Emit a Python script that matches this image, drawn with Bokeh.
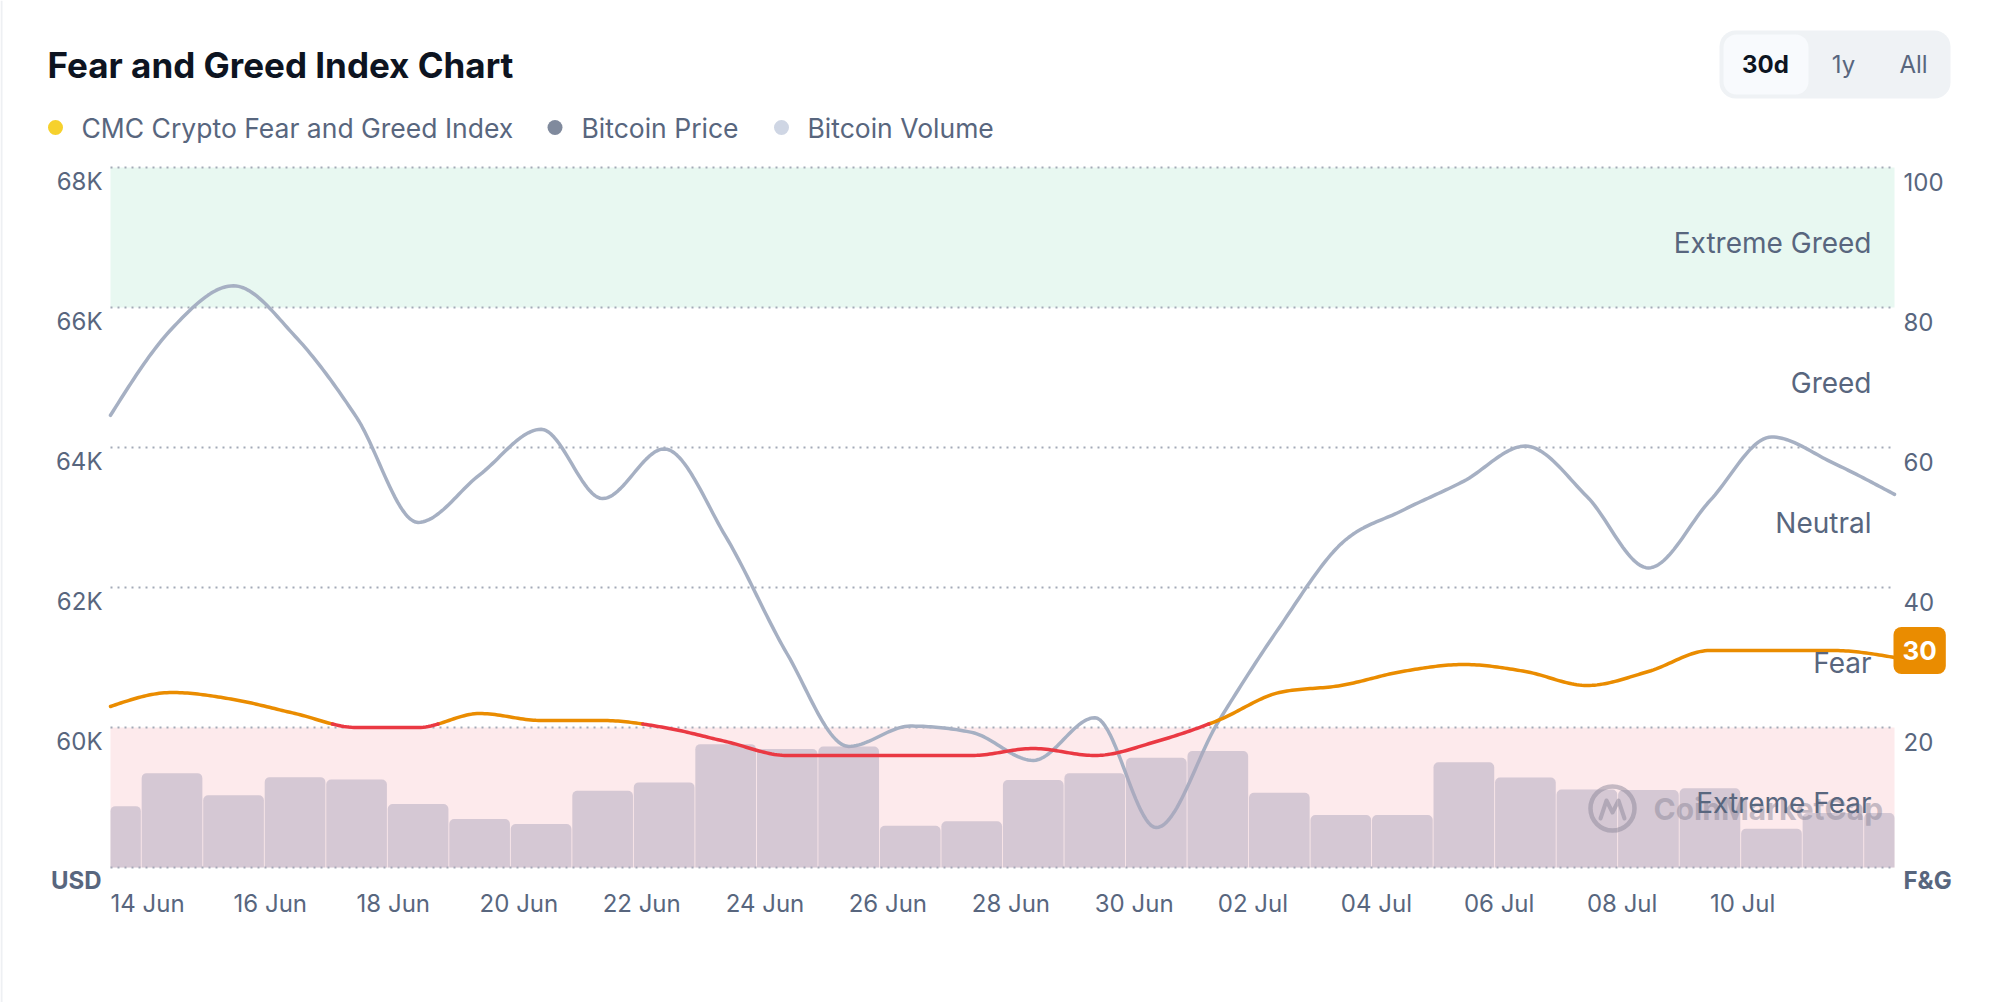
import numpy as np
import pandas as pd
from bokeh.plotting import figure
from bokeh.models import Range1d, Label
from bokeh.embed import file_html
from bokeh.resources import INLINE
from bokeh.core.properties import value

# ---------------------------------------------------------------- data
dates = [
    "2024-06-14", "2024-06-15", "2024-06-16", "2024-06-17", "2024-06-18",
    "2024-06-19", "2024-06-20", "2024-06-21", "2024-06-22", "2024-06-23",
    "2024-06-24", "2024-06-25", "2024-06-26", "2024-06-27", "2024-06-28",
    "2024-06-29", "2024-06-30", "2024-07-01", "2024-07-02", "2024-07-03",
    "2024-07-04", "2024-07-05", "2024-07-06", "2024-07-07", "2024-07-08",
    "2024-07-09", "2024-07-10", "2024-07-11", "2024-07-12", "2024-07-13",
]

# Bitcoin price, USD
btc_price = [
    64460, 65700, 66310, 65590, 64430, 62930, 63610, 64260, 63270, 63980,
    62730, 61050, 59730, 60020, 59930, 59530, 60140, 58570, 60070, 61430,
    62620, 63100, 63520, 64020, 63300, 62280, 63240, 64150, 63780, 63330,
]

# CMC Crypto Fear and Greed Index (0-100)
fear_greed = [
    23, 25, 24, 22, 20, 20, 22, 21, 21, 20,
    18, 16, 16, 16, 16, 17, 16, 18, 21, 25,
    26, 28, 29, 28, 26, 28, 31, 31, 31, 30,
]

# Bitcoin 24h volume, billion USD
btc_volume = [
    19.9, 30.6, 23.4, 29.3, 28.5, 20.6, 15.7, 14.1, 24.9, 27.6,
    40.0, 38.4, 39.2, 13.5, 15.0, 28.4, 30.6, 35.6, 37.8, 24.2,
    17.0, 17.0, 34.1, 29.2, 25.3, 25.1, 25.7, 12.6, 17.7, 17.7,
]

price_ticks = [60000, 62000, 64000, 66000, 68000]
price_tick_labels = ["60K", "62K", "64K", "66K", "68K"]
price_span = [58000, 68000]
fg_ticks = [20, 40, 60, 80, 100]
fg_tick_labels = ["20", "40", "60", "80", "100"]
fg_grid = [0, 20, 40, 60, 80, 100]
volume_span = [0, 227]
x_tick_labels = ["14 Jun", "16 Jun", "18 Jun", "20 Jun", "22 Jun", "24 Jun", "26 Jun",
                 "28 Jun", "30 Jun", "02 Jul", "04 Jul", "06 Jul", "08 Jul", "10 Jul"]
zone_names = ["Extreme Fear", "Fear", "Neutral", "Greed", "Extreme Greed"]
zone_bounds = [0, 20, 40, 60, 80, 100]
legend_names = ["CMC Crypto Fear and Greed Index", "Bitcoin Price", "Bitcoin Volume"]
range_buttons = ["30d", "1y", "All"]

# ---------------------------------------------------------------- style
FONT = "Inter"
INK = "#0D1421"
MUTED = "#58667E"
PRICE_C = "#A6B0C3"
ORANGE = "#EA8C00"
RED = "#EA3943"
GRID_C = "#A3AAB7"
GREEN_BAND = "#E8F8F1"
RED_BAND = "#FDEAEC"
LEGEND_COLORS = ["#F6D12D", "#808A9D", "#CFD6E4"]

W, H = 1994, 1002
# plot area inside the page (page pixels, y downwards)
PL, PR, PT, PB = 110, 1894, 167, 867

DAY_MS = 86400000.0
x_ms = (pd.to_datetime(dates).astype("int64") // 10**6).to_numpy().astype(float)


def page_range(v_lo, v_hi, lo_px, hi_px, size, vertical):
    """Range over the whole canvas so that v_lo/v_hi land on the given page pixels."""
    per_px = (v_hi - v_lo) / abs(hi_px - lo_px)
    if vertical:  # page y grows downwards, value grows upwards
        return Range1d(v_lo - (size - lo_px) * per_px, v_hi + hi_px * per_px)
    return Range1d(v_lo - lo_px * per_px, v_hi + (size - hi_px) * per_px)


def monotone_curve(x, y, steps=24):
    """Monotone cubic (Fritsch-Carlson / d3 monotoneX) through the points."""
    x = np.asarray(x, float)
    y = np.asarray(y, float)
    h = np.diff(x)
    s = np.diff(y) / h
    n = len(x)
    m = np.zeros(n)
    sgn = lambda v: -1.0 if v < 0 else 1.0
    for i in range(1, n - 1):
        s0, s1, h0, h1 = s[i - 1], s[i], h[i - 1], h[i]
        p_ = (s0 * h1 + s1 * h0) / (h0 + h1)
        m[i] = (sgn(s0) + sgn(s1)) * min(abs(s0), abs(s1), 0.5 * abs(p_))
    m[0] = (3 * s[0] - m[1]) / 2
    m[-1] = (3 * s[-1] - m[-2]) / 2
    u = np.linspace(0, 1, steps, endpoint=False)
    xs, ys = [], []
    for i in range(n - 1):
        h00 = 2 * u**3 - 3 * u**2 + 1
        h10 = u**3 - 2 * u**2 + u
        h01 = -2 * u**3 + 3 * u**2
        h11 = u**3 - u**2
        xs.append(x[i] + u * h[i])
        ys.append(h00 * y[i] + h10 * h[i] * m[i] + h01 * y[i + 1] + h11 * h[i] * m[i + 1])
    xs.append([x[-1]])
    ys.append([y[-1]])
    return np.concatenate(xs), np.concatenate(ys)


def split_at(xs, ys, thr):
    """Split a polyline into runs below / above a threshold."""
    runs = {True: [], False: []}
    state = ys[0] < thr
    cx, cy = [xs[0]], [ys[0]]
    for i in range(1, len(xs)):
        b = ys[i] < thr
        if b != state:
            t = (thr - ys[i - 1]) / (ys[i] - ys[i - 1])
            xc = xs[i - 1] + t * (xs[i] - xs[i - 1])
            cx.append(xc)
            cy.append(thr)
            runs[state].append((cx, cy))
            cx, cy = [xc], [thr]
            state = b
        cx.append(xs[i])
        cy.append(ys[i])
    runs[state].append((cx, cy))
    return runs


# ---------------------------------------------------------------- canvas
p = figure(width=W, height=H, x_range=Range1d(0, W), y_range=Range1d(H, 0),
           x_axis_location=None, y_axis_location=None, toolbar_location=None,
           output_backend="svg", min_border=0, outline_line_color=None)
p.grid.visible = False
p.background_fill_color = "white"
p.border_fill_color = "white"

p.extra_x_ranges = {"t": page_range(x_ms[0], x_ms[-1], PL, PR, W, False)}
p.extra_y_ranges = {
    "usd": page_range(price_span[0], price_span[1], PB, PT, H, True),
    "fg": page_range(zone_bounds[0], zone_bounds[-1], PB, PT, H, True),
    "vol": page_range(volume_span[0], volume_span[1], PB, PT, H, True),
}

# card edge
p.segment(x0=[1], y0=[0], x1=[1], y1=[H], line_color="#EEF0F3", line_width=2)

# ---------------------------------------------------------------- header
p.text(x=[47], y=[64], text=["Fear and Greed Index Chart"], text_font=value(FONT),
       text_font_size="35px", text_font_style="bold", text_color=INK,
       text_align="left", text_baseline="middle")

legend_dot_x = [55, 554.5, 781]
legend_text_x = [81, 581, 807]
p.scatter(x=legend_dot_x, y=[127] * 3, size=15, marker="circle",
          fill_color=LEGEND_COLORS, line_color=None)
p.text(x=legend_text_x, y=[127] * 3, text=legend_names, text_font=value(FONT),
       text_font_size="26.5px", text_color=MUTED, text_align="left", text_baseline="middle")

# period selector
p.quad(left=[1719], right=[1950], top=[30], bottom=[98], fill_color="#EFF2F5",
       line_color=None, border_radius=16)
p.quad(left=[1723], right=[1808], top=[34], bottom=[94], fill_color="#F8FAFD",
       line_color=None, border_radius=13)
p.text(x=[1765], y=[64], text=[range_buttons[0]], text_font=value(FONT),
       text_font_size="24px", text_font_style="bold", text_color=INK,
       text_align="center", text_baseline="middle")
p.text(x=[1843, 1913], y=[64, 64], text=range_buttons[1:], text_font=value(FONT),
       text_font_size="24px", text_color=MUTED, text_align="center", text_baseline="middle")

# ---------------------------------------------------------------- chart
# sentiment zones
p.quad(left=[x_ms[0]] * 2, right=[x_ms[-1]] * 2,
       bottom=[zone_bounds[4], zone_bounds[0]], top=[zone_bounds[5], zone_bounds[1]],
       x_range_name="t", y_range_name="fg", fill_color=[GREEN_BAND, RED_BAND],
       line_color=None)

# dotted grid
p.segment(x0=[x_ms[0]] * len(fg_grid), x1=[x_ms[-1]] * len(fg_grid), y0=fg_grid, y1=fg_grid,
          x_range_name="t", y_range_name="fg", line_color=GRID_C, line_width=2,
          line_dash="2 5")

# bitcoin price
px_, py_ = monotone_curve(x_ms, btc_price)
p.line(px_, py_, x_range_name="t", y_range_name="usd", line_color=PRICE_C, line_width=3.5,
       line_join="round", line_cap="round")

# bitcoin volume, day-wide columns kept inside the time span
half = 0.493 * DAY_MS
p.quad(left=np.maximum(x_ms - half, x_ms[0]), right=np.minimum(x_ms + half, x_ms[-1]),
       bottom=0, top=btc_volume, x_range_name="t", y_range_name="vol",
       fill_color="#ADA6BC", fill_alpha=0.5, line_color=None, border_radius=(5, 5, 0, 0))

# watermark
p.scatter(x=[1612], y=[808], marker="circle", size=44, fill_color=None,
          line_color="#8E889A", line_alpha=0.5, line_width=4.5)
p.line(x=[1600, 1606, 1612, 1618, 1624], y=[818, 800, 812, 800, 818],
       line_color="#8E889A", line_alpha=0.5, line_width=4, line_join="round", line_cap="round")
p.text(x=[1653], y=[808], text=["CoinMarketCap"], text_font=value(FONT),
       text_font_size="30px", text_font_style="bold", text_color="#8E889A", text_alpha=0.5,
       text_align="left", text_baseline="middle")

# fear & greed index, red inside the extreme-fear zone
fx, fy = monotone_curve(x_ms, fear_greed)
runs = split_at(fx, fy, zone_bounds[1] + 0.5)
for below, color in ((False, ORANGE), (True, RED)):
    if runs[below]:
        p.multi_line(xs=[r[0] for r in runs[below]], ys=[r[1] for r in runs[below]],
                     x_range_name="t", y_range_name="fg", line_color=color, line_width=3.5,
                     line_join="round", line_cap="round")

# zone names
zone_mid = [(a + b) / 2 for a, b in zip(zone_bounds[:-1], zone_bounds[1:])]
p.text(x=[1871] * len(zone_names), y=zone_mid, text=zone_names, y_range_name="fg",
       y_offset=5, text_font=value(FONT), text_font_size="28px", text_color=MUTED,
       text_align="right", text_baseline="middle")

# price axis labels
p.text(x=[102] * len(price_ticks), y=price_ticks, text=price_tick_labels, y_range_name="usd",
       y_offset=14, text_font=value(FONT), text_font_size="24px", text_color=MUTED,
       text_align="right", text_baseline="middle")
p.text(x=[101], y=[880], text=["USD"], text_font=value(FONT), text_font_size="24px",
       text_font_style="bold", text_color=MUTED, text_align="right", text_baseline="middle")

# index axis labels
p.text(x=[1903] * len(fg_ticks), y=fg_ticks, text=fg_tick_labels, y_range_name="fg",
       y_offset=14, text_font=value(FONT), text_font_size="24px", text_color=MUTED,
       text_align="left", text_baseline="middle")
p.text(x=[1903], y=[880], text=["F&G"], text_font=value(FONT), text_font_size="24px",
       text_font_style="bold", text_color=MUTED, text_align="left", text_baseline="middle")

# date labels
p.text(x=x_ms[0:28:2], y=[903] * len(x_tick_labels), text=x_tick_labels, x_range_name="t",
       text_font=value(FONT), text_font_size="24px", text_color=MUTED,
       text_align="left", text_baseline="middle")

# latest index value badge
p.add_layout(Label(x=x_ms[-1], y=fear_greed[-1], x_range_name="t", y_range_name="fg",
                   text=str(fear_greed[-1]), x_offset=-1, y_offset=7, text_font=FONT,
                   text_font_size="26px", text_font_style="bold", text_color="white",
                   text_align="left", text_baseline="middle", background_fill_color=ORANGE,
                   background_fill_alpha=1,
                   padding=dict(left=9, right=9, top=14, bottom=14), border_radius=8))

open("out.html", "w").write(file_html(p, INLINE))
